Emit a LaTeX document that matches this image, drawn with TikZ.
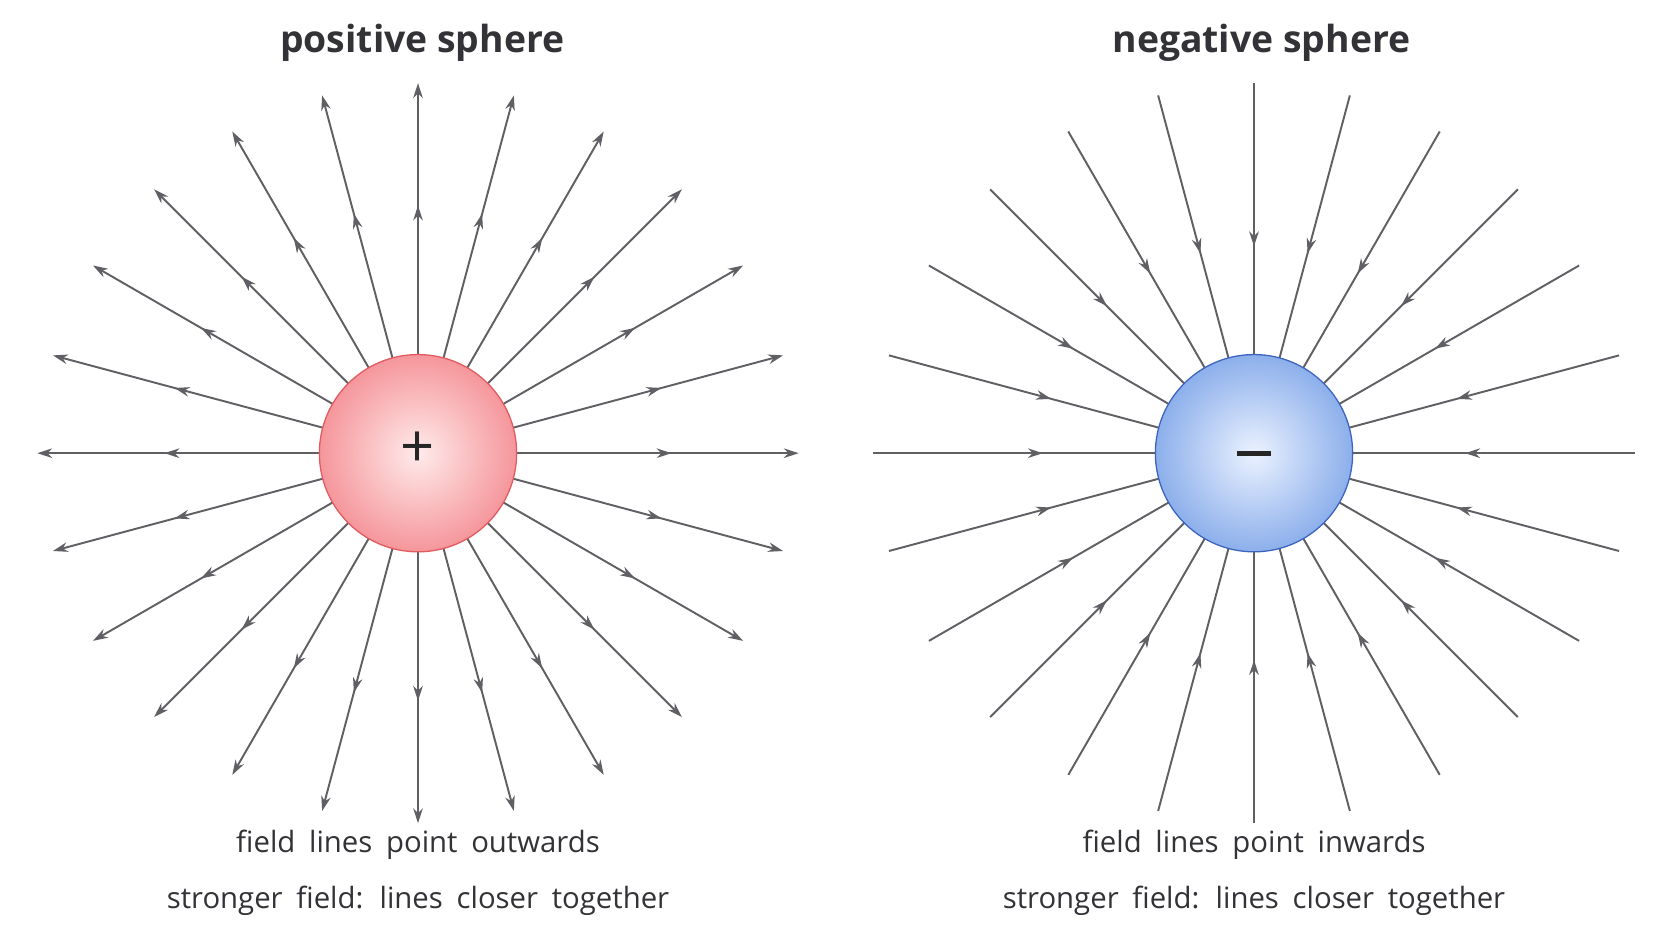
\documentclass[tikz,border=0pt]{standalone}
\usepackage{fontspec}
\setmainfont{Open Sans}
\newfontfamily\capfont[WordSpace=1.8]{Open Sans}
\usetikzlibrary{decorations.markings,arrows.meta,calc}
\definecolor{ln}{RGB}{95,95,100}
\definecolor{tx}{RGB}{50,50,55}
\begin{document}
\begin{tikzpicture}[x=1pt,y=-1pt,
  fl/.style={draw=ln,line width=1.8pt},
  tip/.style={-{Stealth[length=14pt,width=9pt]}},
  midout/.style={postaction={decorate},decoration={markings,mark=at position #1 with {\arrow{Stealth[length=14pt,width=9pt]}}}},
  midin/.style={postaction={decorate},decoration={markings,mark=at position #1 with {\arrowreversed{Stealth[length=14pt,width=9pt]}}}},
  title/.style={font=\fontsize{35}{40}\selectfont\bfseries,text=tx},
  captxt/.style={font=\capfont\fontsize{27.5}{30}\selectfont,text=tx}]
\useasboundingbox[fill=white] (0,0) rectangle (1568,882);
\node[title] (t1) at (396,40) {positive sphere};
\node[title] (t2) at (1183,40) {negative sphere};
\node[captxt] (c1) at (392,792) {field lines point outwards};
\node[captxt] (c2) at (392,845) {stronger field: lines closer together};
\node[captxt] (c3) at (1176,792) {field lines point inwards};
\node[captxt] (c4) at (1176,845) {stronger field: lines closer together};
\coordinate (Pc) at (392,425);
\coordinate (Nc) at (1176,425);
\foreach \a in {0,15,...,345}{
  \pgfmathsetmacro{\L}{357-10*abs(sin(\a))}
  \coordinate (ps\a) at ($(Pc)+(-\a:92)$);
  \coordinate (ns\a) at ($(Nc)+(-\a:92)$);
  \coordinate (pe\a) at ($(Pc)+(-\a:\L)$);
  \coordinate (ne\a) at ($(Nc)+(-\a:\L)$);
  \draw[fl,tip,midout=0.55] (ps\a) -- (pe\a);
  \draw[fl,midin=0.40] (ns\a) -- (ne\a);
}
\node[circle,minimum size=185pt,inner sep=0,draw={rgb,255:red,225;green,90;blue,95},line width=1.2pt,
  inner color={rgb,255:red,255;green,235;blue,235},outer color={rgb,255:red,245;green,150;blue,155}] (P) at (Pc) {};
\node[circle,minimum size=185pt,inner sep=0,draw={rgb,255:red,60;green,100;blue,190},line width=1.2pt,
  inner color={rgb,255:red,235;green,242;blue,255},outer color={rgb,255:red,140;green,175;blue,235}] (N) at (Nc) {};
\node[font=\fontsize{56}{56}\selectfont,text=black!85] (pl) at ($(P)+(0,-3)$) {+};
\node[fill=black!85,minimum width=32pt,minimum height=4.5pt,inner sep=0] (mi) at (N) {};
\end{tikzpicture}
\end{document}
